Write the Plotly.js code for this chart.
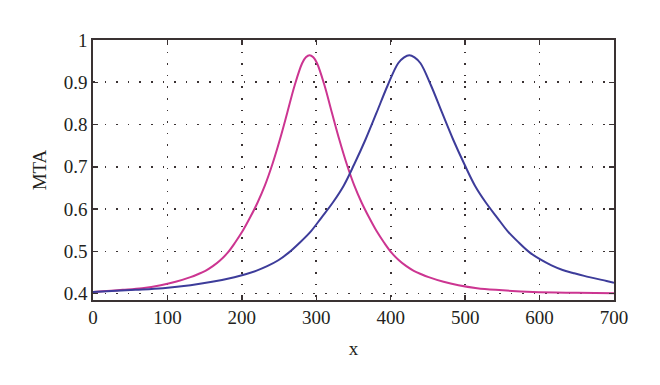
<!DOCTYPE html>
<html>
<head>
<meta charset="utf-8">
<script src="https://cdn.plot.ly/plotly-3.0.1.min.js"></script>
<style>html,body{margin:0;padding:0;background:#fff;}#chart{width:660px;height:385px;}</style>
</head>
<body>
<div id="chart"></div>
<script>
// Pink curve (peak near x = 291)
const pinkX = [0, 40, 66, 91, 111, 131, 141, 151, 161, 171, 181, 191, 201, 211, 221, 231, 241, 251, 261, 271, 281, 286, 291,
               296, 301, 311, 321, 331, 341, 351, 361, 371, 381, 391, 401, 411, 421, 431, 441, 451, 471, 491, 516, 541, 591, 650, 700];
const pinkY = [0.404, 0.409, 0.413, 0.420, 0.428, 0.439, 0.446, 0.454, 0.465, 0.479, 0.497, 0.521, 0.548, 0.580, 0.615, 0.656, 0.706, 0.764, 0.828, 0.893, 0.945, 0.959, 0.964,
               0.959, 0.945, 0.893, 0.828, 0.764, 0.706, 0.656, 0.615, 0.580, 0.548, 0.521, 0.497, 0.479, 0.465, 0.454, 0.446, 0.439, 0.428, 0.420, 0.413, 0.409, 0.404, 0.402, 0.401];
// Blue curve (peak near x = 425)
const blueX = [0, 57, 94, 131, 160, 190, 205, 219, 234, 249, 263, 278, 293, 307, 322, 337, 351, 366, 381, 396, 410, 418, 425,
               432, 440, 454, 469, 484, 499, 513, 528, 543, 557, 572, 587, 601, 616, 631, 645, 660, 690, 700];
const blueY = [0.404, 0.409, 0.413, 0.420, 0.428, 0.439, 0.446, 0.454, 0.465, 0.479, 0.497, 0.521, 0.548, 0.580, 0.615, 0.656, 0.706, 0.764, 0.828, 0.893, 0.945, 0.959, 0.964,
               0.959, 0.945, 0.893, 0.828, 0.764, 0.706, 0.656, 0.615, 0.580, 0.548, 0.521, 0.497, 0.481, 0.467, 0.456, 0.449, 0.442, 0.430, 0.426];
const xTicks = [0, 100, 200, 300, 400, 500, 600, 700];
const yTicks = [0.4, 0.5, 0.6, 0.7, 0.8, 0.9, 1];
const yTickLabels = ['0.4', '0.5', '0.6', '0.7', '0.8', '0.9', '1'];

const font = {family: '"Liberation Serif", "DejaVu Serif", serif', size: 19, color: '#231f20'};
const axisCommon = {
  showline: true, mirror: 'ticks', linecolor: '#3a3233', linewidth: 1.6,
  ticks: 'inside', ticklen: 5, tickwidth: 1.4, tickcolor: '#3a3233',
  showgrid: true, gridcolor: '#3a3233', gridwidth: 1.6, griddash: '1.6px,10px',
  zeroline: false, tickfont: font
};

const traces = [
  {x: pinkX, y: pinkY, type: 'scatter', mode: 'lines', line: {color: '#cc3591', width: 2, shape: 'spline', smoothing: 1}, hoverinfo: 'skip'},
  {x: blueX, y: blueY, type: 'scatter', mode: 'lines', line: {color: '#3d3c9a', width: 2, shape: 'spline', smoothing: 1}, hoverinfo: 'skip'}
];

const layout = {
  width: 660, height: 385,
  margin: {l: 93, r: 46, t: 40, b: 85},
  paper_bgcolor: '#fff', plot_bgcolor: '#fff',
  showlegend: false,
  font: font,
  xaxis: Object.assign({}, axisCommon, {
    range: [0, 700], tickvals: xTicks, ticktext: xTicks.map(String),
    title: {text: 'x', font: font, standoff: 14}
  }),
  yaxis: Object.assign({}, axisCommon, {
    range: [0.385, 1], tickvals: yTicks, ticktext: yTickLabels,
    title: {text: 'MTA', font: font, standoff: 12}
  })
};

Plotly.newPlot('chart', traces, layout, {staticPlot: true, displayModeBar: false});
</script>
</body>
</html>
